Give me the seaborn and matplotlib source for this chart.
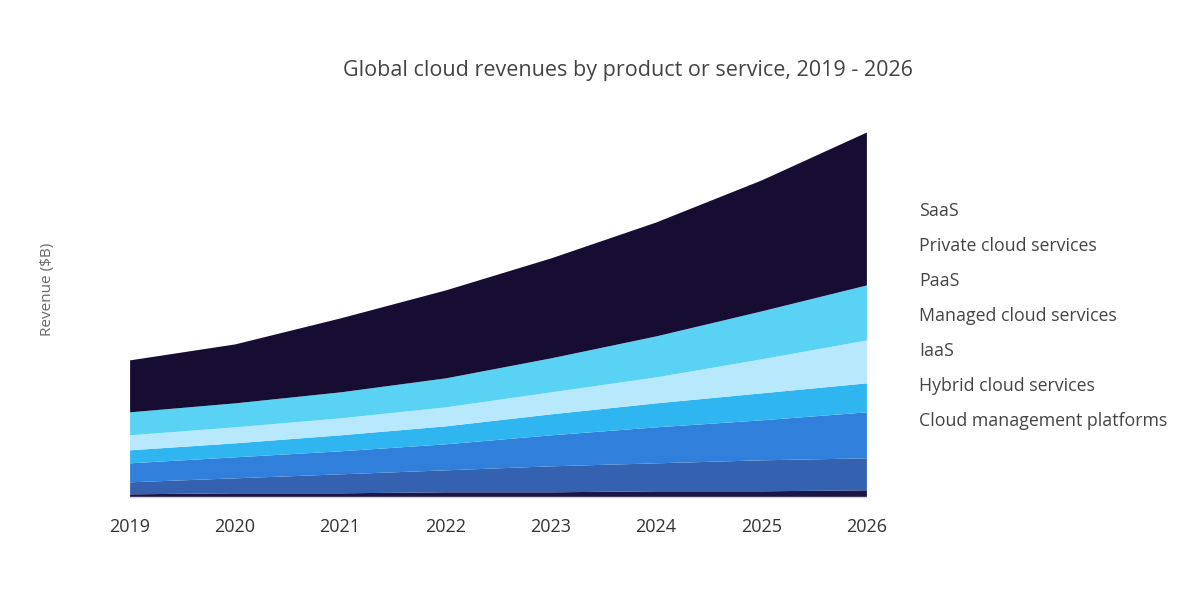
import matplotlib
matplotlib.use("Agg")
import matplotlib.pyplot as plt
import seaborn as sns

sns.set_theme(style="white")
plt.rcParams['font.family'] = ['Open Sans', 'DejaVu Sans']

years = [2019, 2020, 2021, 2022, 2023, 2024, 2025, 2026]

# revenue by segment, $B (bottom layer first)
cloud_mgmt = [9, 12, 12, 15, 15, 18, 18, 21]
hybrid = [36, 45, 57, 66, 78, 84, 93, 96]
iaas = [57, 63, 69, 78, 93, 108, 120, 138]
managed = [39, 42, 48, 54, 63, 72, 81, 87]
paas = [45, 48, 51, 57, 66, 78, 102, 129]
private = [69, 72, 78, 87, 102, 123, 144, 165]
saas = [156, 177, 222, 264, 300, 342, 393, 459]

series = [cloud_mgmt, hybrid, iaas, managed, paas, private, saas]
colors = ["#1c1646", "#3462b0", "#2f7fdb", "#2fb6f1", "#b8e8fb", "#5ad2f4", "#170d33"]

# legend order as printed, top to bottom
legend_labels = ["SaaS", "Private cloud services", "PaaS", "Managed cloud services",
                 "IaaS", "Hybrid cloud services", "Cloud management platforms"]

fig = plt.figure(figsize=(12, 6), dpi=100)
ax = fig.add_axes([0.108, 0.172, 0.614, 0.608])

ax.stackplot(years, *series, colors=colors, linewidth=0)

total_max = max(sum(v) for v in zip(*series))
ax.set_xlim(years[0], years[-1])
ax.set_ylim(0, total_max)
ax.set_xticks(years)
ax.set_xticklabels([str(y) for y in years], fontsize=13, color="#333333")
ax.set_yticks([])
ax.tick_params(axis="x", length=0, pad=15)

for side in ["top", "right", "left"]:
    ax.spines[side].set_visible(False)
ax.spines["bottom"].set_color("#d8cff0")
ax.spines["bottom"].set_linewidth(1)

fig.text(0.04, 0.517, "Revenue ($B)", rotation=90, ha="center", va="center",
         fontsize=11, color="#666666")

fig.text(0.523, 0.883, "Global cloud revenues by product or service, 2019 - 2026",
         ha="center", va="center", fontsize=15.5, color="#444444")

for i, lab in enumerate(legend_labels):
    fig.text(0.766, 0.648 - i * 0.0583, lab, ha="left", va="center",
             fontsize=12.8, color="#444444")

fig.savefig("out.png", dpi=100)
